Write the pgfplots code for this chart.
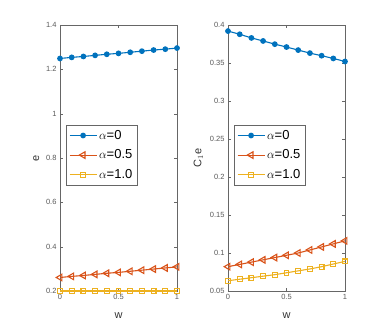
\documentclass[border=0pt]{standalone}
\usepackage{pgfplots}
\pgfplotsset{compat=1.18}
\usepackage{fontspec}
\setmainfont{Liberation Sans}
\setsansfont{Liberation Sans}
\definecolor{mblue}{rgb}{0,0.447,0.741}
\definecolor{mred}{rgb}{0.85,0.325,0.098}
\definecolor{myellow}{rgb}{0.929,0.694,0.125}
\pgfplotsset{mstyle/.style={scale only axis,width=117pt,height=266pt,anchor=south west,
  xmin=0,xmax=1,xtick={0,0.5,1},xticklabels={0,0.5,1},
  axis line style={black!60},tick style={black!60,major tick length=3pt},tick align=inside,
  tick label style={font=\fontsize{7.5}{8}\selectfont,text=black!65},
  /pgf/number format/assume math mode=true,
  label style={font=\fontsize{11}{12}\selectfont,text=black!80},
  xlabel={w},xlabel style={yshift=-6pt},
  legend style={font=\fontsize{13}{15}\selectfont,draw=black!60,at={(0.05,0.624)},anchor=north west,inner sep=3pt,row sep=5pt,legend cell align=left,
    /tikz/every even column/.append style={column sep=1pt}},
  legend image code/.code={\draw[mark repeat=2,mark phase=2] plot coordinates {(0pt,0pt) (13.5pt,0pt) (27pt,0pt)};},
  every axis plot/.append style={line width=1.1pt}}}
\begin{document}
\begin{tikzpicture}
\useasboundingbox (0,0) rectangle (382pt,327pt);
\begin{axis}[mstyle,at={(60pt,36pt)},ymin=0.2,ymax=1.4,ytick={0.2,0.4,0.6,0.8,1,1.2,1.4},
  yticklabels={0.2,0.4,0.6,0.8,1,1.2,1.4},ylabel={e}]
\addplot[mblue,mark=*,mark size=2.3pt] coordinates {(0,1.249) (0.1,1.254) (0.2,1.258) (0.3,1.263) (0.4,1.268) (0.5,1.272) (0.6,1.277) (0.7,1.282) (0.8,1.287) (0.9,1.291) (1,1.296)};
\addlegendentry{$\alpha$=0}
\addplot[mred,mark=triangle,mark size=3.8pt,mark options={rotate=90,solid}] coordinates {(0,0.261) (0.1,0.266) (0.2,0.270) (0.3,0.275) (0.4,0.280) (0.5,0.284) (0.6,0.289) (0.7,0.294) (0.8,0.299) (0.9,0.304) (1,0.309)};
\addlegendentry{$\alpha$=0.5}
\addplot[myellow,mark=square,mark size=2.4pt] coordinates {(0,0.2) (0.1,0.2) (0.2,0.2) (0.3,0.2) (0.4,0.2) (0.5,0.2) (0.6,0.2) (0.7,0.2) (0.8,0.2) (0.9,0.2) (1,0.2)};
\addlegendentry{$\alpha$=1.0}
\end{axis}
\begin{axis}[mstyle,at={(228pt,36pt)},ymin=0.05,ymax=0.4,ytick={0.05,0.1,0.15,0.2,0.25,0.3,0.35,0.4},
  yticklabels={0.05,0.1,0.15,0.2,0.25,0.3,0.35,0.4},ylabel={C$_1$e}]
\addplot[mblue,mark=*,mark size=2.3pt] coordinates {(0,0.392) (0.1,0.3878) (0.2,0.383) (0.3,0.379) (0.4,0.3748) (0.5,0.371) (0.6,0.367) (0.7,0.363) (0.8,0.3596) (0.9,0.356) (1,0.352)};
\addlegendentry{$\alpha$=0}
\addplot[mred,mark=triangle,mark size=3.8pt,mark options={rotate=90,solid}] coordinates {(0,0.082) (0.1,0.085) (0.2,0.088) (0.3,0.091) (0.4,0.094) (0.5,0.097) (0.6,0.100) (0.7,0.104) (0.8,0.108) (0.9,0.112) (1,0.116)};
\addlegendentry{$\alpha$=0.5}
\addplot[myellow,mark=square,mark size=2.4pt] coordinates {(0,0.0635) (0.1,0.0655) (0.2,0.0675) (0.3,0.0695) (0.4,0.0715) (0.5,0.074) (0.6,0.0765) (0.7,0.079) (0.8,0.082) (0.9,0.0855) (1,0.089)};
\addlegendentry{$\alpha$=1.0}
\end{axis}
\end{tikzpicture}
\end{document}
